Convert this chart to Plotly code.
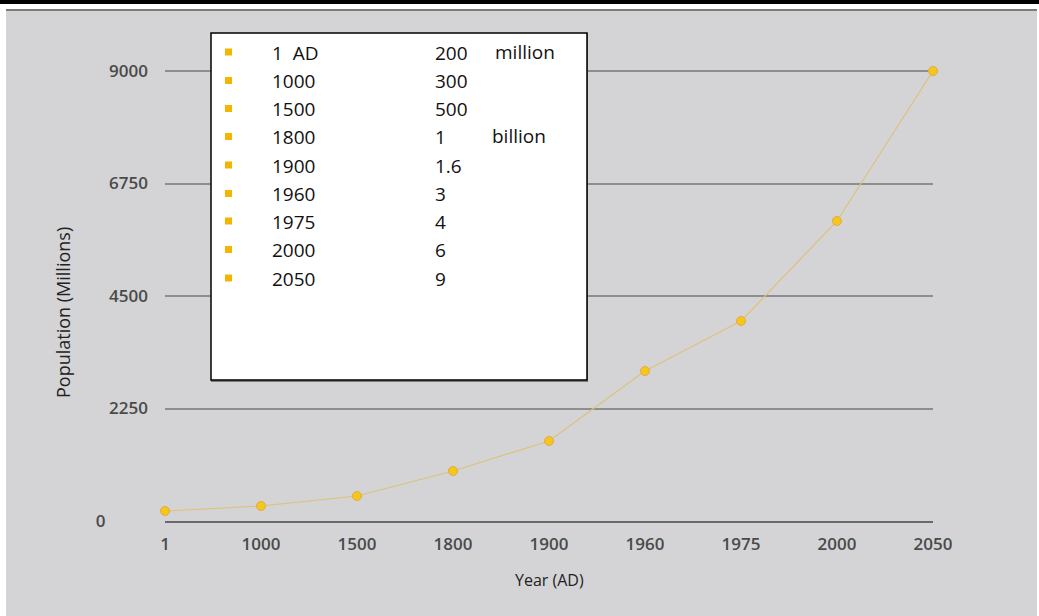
import plotly.graph_objects as go

# ---- data ----
years = ["1", "1000", "1500", "1800", "1900", "1960", "1975", "2000", "2050"]
population = [200, 300, 500, 1000, 1600, 3000, 4000, 6000, 9000]
y_ticks = [0, 2250, 4500, 6750, 9000]
y_ticktext = ["0\u2003\u2003\u2002", "2250", "4500", "6750", "9000"]

box_years = ["1\u00a0\u00a0AD", "1000", "1500", "1800", "1900", "1960", "1975", "2000", "2050"]
box_values = ["200", "300", "500", "1", "1.6", "3", "4", "6", "9"]
box_units = ["million", "", "", "billion", "", "", "", "", ""]

# ---- layout geometry (pixels) ----
W, H = 1039, 616
L, R, T, B = 165, 933, 71, 521
PW, PH = R - L, B - T


def px(x):
    return (x - L) / PW


def py(y):
    return (B - y) / PH


BG = "#d4d4d6"
GRID = "#8e8e8e"
fig = go.Figure()
fig.add_trace(go.Scatter(
    x=years, y=population, mode="lines+markers",
    line=dict(color="#dcc27a", width=1.2),
    marker=dict(size=9, color="#f2c81c", line=dict(color="#eaa642", width=1)),
    cliponaxis=False, hoverinfo="x+y", showlegend=False,
))

shapes = []
# top gridline (at the axis edge, which plotly does not draw itself)
shapes.append(dict(type="line", xref="paper", yref="paper", x0=0, x1=1,
                   y0=1, y1=1, line=dict(color=GRID, width=2), layer="below"))
# frame decorations
shapes.append(dict(type="rect", xref="paper", yref="paper", x0=px(-5), x1=px(W + 5),
                   y0=py(4), y1=py(-5), fillcolor="#000000", line=dict(width=0), layer="above"))
shapes.append(dict(type="rect", xref="paper", yref="paper", x0=px(-5), x1=px(W + 5),
                   y0=py(9), y1=py(4), fillcolor="#ffffff", line=dict(width=0), layer="above"))
shapes.append(dict(type="rect", xref="paper", yref="paper", x0=px(6), x1=px(1037),
                   y0=py(11), y1=py(9), fillcolor="#7a7a7a", line=dict(width=0), layer="above"))
shapes.append(dict(type="rect", xref="paper", yref="paper", x0=px(-5), x1=px(6),
                   y0=py(H + 5), y1=py(4), fillcolor="#ffffff", line=dict(width=0), layer="above"))
shapes.append(dict(type="rect", xref="paper", yref="paper", x0=px(1037), x1=px(W + 5),
                   y0=py(H + 5), y1=py(4), fillcolor="#ffffff", line=dict(width=0), layer="above"))

# text box
bx0, bx1, by0, by1 = 211, 587, 33, 380
shapes.append(dict(type="rect", xref="paper", yref="paper", x0=px(bx0), x1=px(bx1 + 1),
                   y0=py(by1 + 2), y1=py(by0), fillcolor="#7d7d7d", line=dict(width=0), layer="above"))
shapes.append(dict(type="rect", xref="paper", yref="paper", x0=px(bx0), x1=px(bx1),
                   y0=py(by1), y1=py(by0), fillcolor="#ffffff",
                   line=dict(color="#000000", width=1.5), layer="above"))

row_y = [52.5, 81, 109, 137, 165.5, 194, 221.5, 250, 278.5]
annotations = []
tfont = dict(family="Open Sans, sans-serif", size=19, color="#111111")
for i, yy in enumerate(row_y):
    shapes.append(dict(type="rect", xref="paper", yref="paper", x0=px(225), x1=px(232),
                       y0=py(yy + 3), y1=py(yy - 4), fillcolor="#f5b400",
                       line=dict(width=0), layer="above"))
    annotations.append(dict(xref="paper", yref="paper", x=px(270), y=py(yy), text=box_years[i],
                            showarrow=False, xanchor="left", yanchor="middle", font=tfont))
    annotations.append(dict(xref="paper", yref="paper", x=px(433), y=py(yy), text=box_values[i],
                            showarrow=False, xanchor="left", yanchor="middle", font=tfont))
    if box_units[i]:
        annotations.append(dict(xref="paper", yref="paper", x=px(490 if i else 493), y=py(yy - 1),
                                text=box_units[i], showarrow=False, xanchor="left",
                                yanchor="middle", font=tfont))

annotations.append(dict(xref="paper", yref="paper", x=px(63), y=py(313), text="Population (Millions)",
                        textangle=-90, showarrow=False, xanchor="center", yanchor="middle",
                        font=dict(family="Open Sans, sans-serif", size=18, color="#222222")))
annotations.append(dict(xref="paper", yref="paper", x=px(549), y=py(580), text="Year (AD)",
                        showarrow=False, xanchor="center", yanchor="middle",
                        font=dict(family="Open Sans, sans-serif", size=16, color="#222222")))

tickfont = dict(family="Open Sans, sans-serif", size=17, color="#4a4a4a", weight=600)
fig.update_layout(
    width=W, height=H,
    margin=dict(l=L, r=W - R, t=T, b=H - B),
    paper_bgcolor=BG, plot_bgcolor=BG,
    shapes=shapes, annotations=annotations,
    xaxis=dict(type="category", range=[0, len(years) - 1], showgrid=False, zeroline=False,
               showline=True, linecolor="#6a6a6a", linewidth=2, ticks="",
               tickfont=tickfont, ticklabelstandoff=7, fixedrange=True),
    yaxis=dict(range=[0, 9000], tickvals=y_ticks, ticktext=y_ticktext,
               showgrid=True, gridcolor=GRID, gridwidth=2, zeroline=False,
               showline=False, ticks="", tickfont=tickfont, ticklabelstandoff=16,
               fixedrange=True),
)

fig.write_html("out.html")
